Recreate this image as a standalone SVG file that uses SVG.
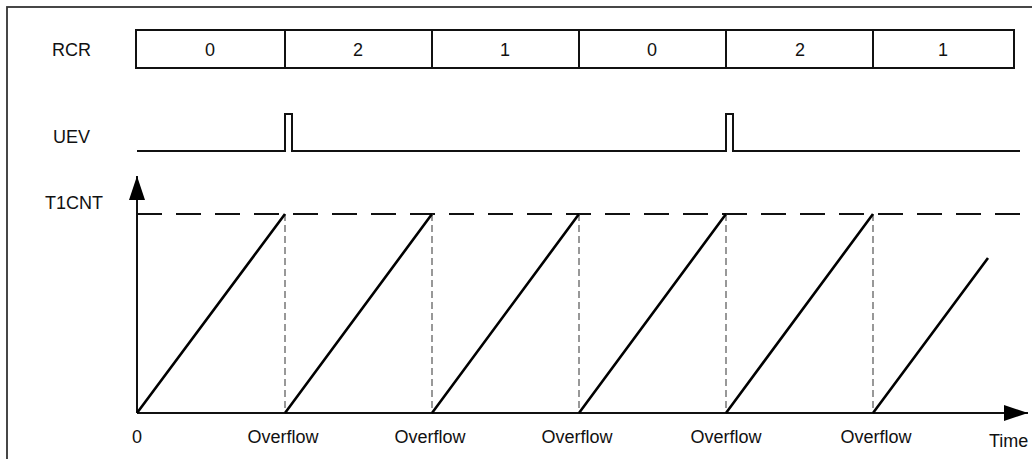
<svg xmlns="http://www.w3.org/2000/svg" width="1032" height="459" viewBox="0 0 1032 459">
<style>
text{font-family:"Liberation Sans",Arial,sans-serif;font-size:18px;fill:#111}
.c{text-anchor:middle}
.ln{stroke:#111;stroke-width:2;fill:none}
.ramp{stroke:#000;stroke-width:2.6;fill:none}
.vd{stroke:#777;stroke-width:1.5;stroke-dasharray:7 4;fill:none}
.hd{stroke:#111;stroke-width:2;stroke-dasharray:25 14;fill:none}
</style>
<defs>
<marker id="ah" viewBox="0 0 24 16" refX="24" refY="8" markerWidth="24" markerHeight="16" markerUnits="userSpaceOnUse" orient="auto">
<path d="M0,0 L24,8 L0,16 Z" fill="#000"/>
</marker>
</defs>
<rect x="7" y="7" width="1040" height="470" fill="none" stroke="#333" stroke-width="1.8"/>
<g id="labels">
<text x="52" y="56">RCR</text>
<text x="53" y="143">UEV</text>
<text x="45" y="209">T1CNT</text>
</g>
<g id="rcr">
<rect x="136" y="30" width="878" height="38" class="ln"/>
<path class="ln" d="M285,30V68M432,30V68M579,30V68M726,30V68M873,30V68"/>
<text class="c" x="210" y="56">0</text>
<text class="c" x="358" y="56">2</text>
<text class="c" x="505" y="56">1</text>
<text class="c" x="652" y="56">0</text>
<text class="c" x="800" y="56">2</text>
<text class="c" x="943" y="56">1</text>
</g>
<g id="uev">
<path class="ln" d="M137,151H285V114H292V151H726V114H733V151H1020"/>
</g>
<g id="connectors">
<path class="hd" d="M137,214H1022"/>
<path class="vd" d="M285,214V413M432,214V413M579,214V413M726,214V413M873,214V413"/>
<path class="ln" d="M137,413V176" marker-end="url(#ah)"/>
<path class="ln" d="M137,413H1028" marker-end="url(#ah)"/>
</g>
<g id="ramps">
<path class="ramp" d="M137,413L285,214M285,413L432,214M432,413L579,214M579,413L726,214M726,413L873,214M873,413L988,258"/>
</g>
<g id="axis-labels">
<text class="c" x="137" y="443">0</text>
<text class="c" x="283" y="443">Overflow</text>
<text class="c" x="430" y="443">Overflow</text>
<text class="c" x="577" y="443">Overflow</text>
<text class="c" x="726" y="443">Overflow</text>
<text class="c" x="876" y="443">Overflow</text>
<text x="989" y="447">Time</text>
</g>
</svg>
